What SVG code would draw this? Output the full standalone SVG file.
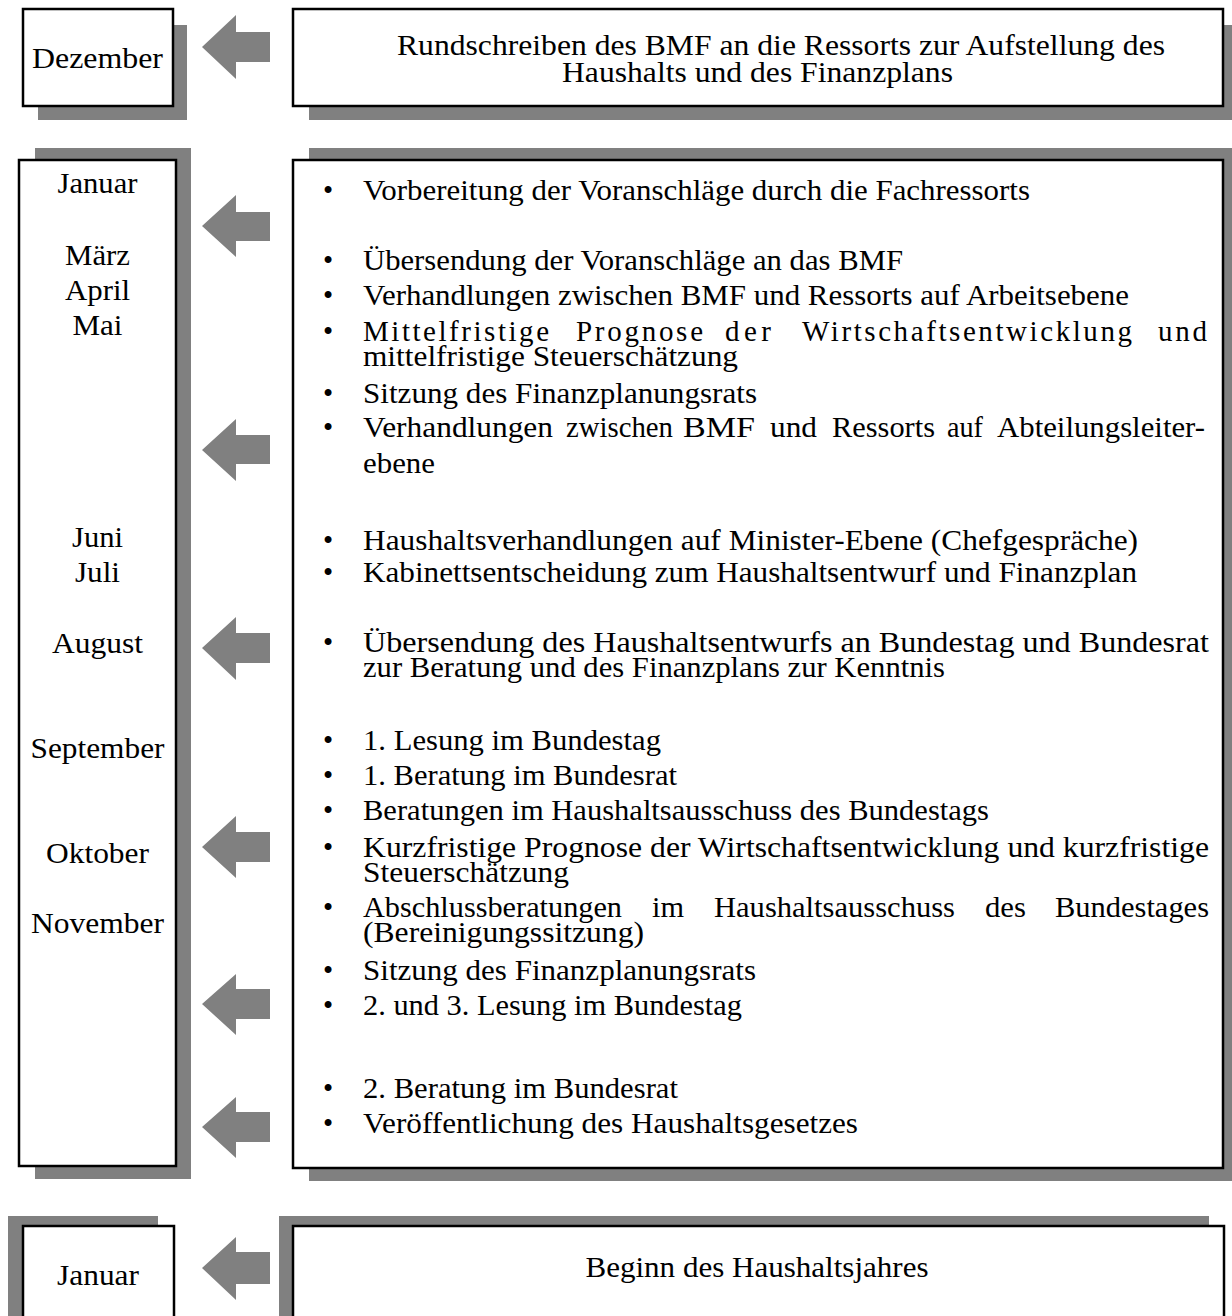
<svg xmlns="http://www.w3.org/2000/svg" width="1232" height="1316" viewBox="0 0 1232 1316">
<style>
.sh{fill:#808080;}
.bx{fill:#fff;stroke:#000;stroke-width:2.5;}
.ar{fill:#808080;}
text{font-family:"Liberation Serif","Times New Roman",serif;font-size:29px;fill:#000;}
.m{text-anchor:middle;}
.b{text-anchor:middle;}
</style>
<rect width="1232" height="1316" fill="#fff"/>
<g id="node-dezember">
<rect class="sh" x="38" y="25" width="149" height="95"/>
<rect class="bx" x="23" y="9" width="150" height="97"/>
<text class="m" x="97.5" y="68" textLength="131" lengthAdjust="spacingAndGlyphs">Dezember</text>
</g>
<g id="node-rundschreiben">
<rect class="sh" x="309" y="25" width="923" height="95"/>
<rect class="bx" x="293" y="9" width="930" height="97"/>
<text x="397" y="55" textLength="768" lengthAdjust="spacingAndGlyphs">Rundschreiben des BMF an die Ressorts zur Aufstellung des</text>
<text x="562" y="82" textLength="391" lengthAdjust="spacingAndGlyphs">Haushalts und des Finanzplans</text>
</g>
<g id="node-monate">
<rect class="sh" x="35" y="148" width="156" height="1031"/>
<rect class="bx" x="19" y="160" width="157" height="1006"/>
<text class="m" x="97.5" y="193" textLength="80" lengthAdjust="spacingAndGlyphs">Januar</text>
<text class="m" x="97.5" y="265" textLength="65" lengthAdjust="spacingAndGlyphs">März</text>
<text class="m" x="97.5" y="300" textLength="65" lengthAdjust="spacingAndGlyphs">April</text>
<text class="m" x="97.5" y="335" textLength="50" lengthAdjust="spacingAndGlyphs">Mai</text>
<text class="m" x="97.5" y="547" textLength="51" lengthAdjust="spacingAndGlyphs">Juni</text>
<text class="m" x="97.5" y="582" textLength="45" lengthAdjust="spacingAndGlyphs">Juli</text>
<text class="m" x="97.5" y="653" textLength="91" lengthAdjust="spacingAndGlyphs">August</text>
<text class="m" x="97.5" y="758" textLength="134" lengthAdjust="spacingAndGlyphs">September</text>
<text class="m" x="97.5" y="863" textLength="103" lengthAdjust="spacingAndGlyphs">Oktober</text>
<text class="m" x="97.5" y="933" textLength="133" lengthAdjust="spacingAndGlyphs">November</text>
</g>
<g id="node-ablauf">
<rect class="sh" x="309" y="148" width="923" height="1033"/>
<rect class="bx" x="293" y="160" width="930" height="1008"/>
<g id="bullets">
<text class="b" x="328" y="200">•</text>
<text class="b" x="328" y="270">•</text>
<text class="b" x="328" y="305">•</text>
<text class="b" x="328" y="341">•</text>
<text class="b" x="328" y="403">•</text>
<text class="b" x="328" y="437">•</text>
<text class="b" x="328" y="550">•</text>
<text class="b" x="328" y="582">•</text>
<text class="b" x="328" y="652">•</text>
<text class="b" x="328" y="750">•</text>
<text class="b" x="328" y="785">•</text>
<text class="b" x="328" y="820">•</text>
<text class="b" x="328" y="857">•</text>
<text class="b" x="328" y="917">•</text>
<text class="b" x="328" y="980">•</text>
<text class="b" x="328" y="1015">•</text>
<text class="b" x="328" y="1098">•</text>
<text class="b" x="328" y="1133">•</text>
</g>
<text x="363" y="200" textLength="667" lengthAdjust="spacingAndGlyphs">Vorbereitung der Voranschläge durch die Fachressorts</text>
<text x="363" y="270" textLength="540" lengthAdjust="spacingAndGlyphs">Übersendung der Voranschläge an das BMF</text>
<text x="363" y="305" textLength="766" lengthAdjust="spacingAndGlyphs">Verhandlungen zwischen BMF und Ressorts auf Arbeitsebene</text>
<g id="line-mittelfristige">
<text x="363" y="341" textLength="186" lengthAdjust="spacing">Mittelfristige</text>
<text x="576" y="341" textLength="127" lengthAdjust="spacing">Prognose</text>
<text x="725" y="341" textLength="46" lengthAdjust="spacing">der</text>
<text x="802" y="341" textLength="330" lengthAdjust="spacing">Wirtschaftsentwicklung</text>
<text x="1158" y="341" textLength="49" lengthAdjust="spacing">und</text>
</g>
<text x="363" y="366" textLength="375" lengthAdjust="spacingAndGlyphs">mittelfristige Steuerschätzung</text>
<text x="363" y="403" textLength="394" lengthAdjust="spacingAndGlyphs">Sitzung des Finanzplanungsrats</text>
<g id="line-abteilungsleiter">
<text x="363" y="437" textLength="190" lengthAdjust="spacingAndGlyphs">Verhandlungen</text>
<text x="566" y="437" textLength="107" lengthAdjust="spacingAndGlyphs">zwischen</text>
<text x="683" y="437" textLength="72" lengthAdjust="spacingAndGlyphs">BMF</text>
<text x="770" y="437" textLength="47" lengthAdjust="spacingAndGlyphs">und</text>
<text x="832" y="437" textLength="103" lengthAdjust="spacingAndGlyphs">Ressorts</text>
<text x="947" y="437" textLength="36" lengthAdjust="spacingAndGlyphs">auf</text>
<text x="997" y="437" textLength="208" lengthAdjust="spacingAndGlyphs">Abteilungsleiter-</text>
</g>
<text x="363" y="473" textLength="72" lengthAdjust="spacingAndGlyphs">ebene</text>
<text x="363" y="550" textLength="775" lengthAdjust="spacingAndGlyphs">Haushaltsverhandlungen auf Minister-Ebene (Chefgespräche)</text>
<text x="363" y="582" textLength="774" lengthAdjust="spacingAndGlyphs">Kabinettsentscheidung zum Haushaltsentwurf und Finanzplan</text>
<text x="363" y="652" textLength="846" lengthAdjust="spacingAndGlyphs">Übersendung des Haushaltsentwurfs an Bundestag und Bundesrat</text>
<text x="363" y="677" textLength="582" lengthAdjust="spacingAndGlyphs">zur Beratung und des Finanzplans zur Kenntnis</text>
<text x="363" y="750" textLength="298" lengthAdjust="spacingAndGlyphs">1. Lesung im Bundestag</text>
<text x="363" y="785" textLength="314" lengthAdjust="spacingAndGlyphs">1. Beratung im Bundesrat</text>
<text x="363" y="820" textLength="626" lengthAdjust="spacingAndGlyphs">Beratungen im Haushaltsausschuss des Bundestags</text>
<text x="363" y="857" textLength="846" lengthAdjust="spacingAndGlyphs">Kurzfristige Prognose der Wirtschaftsentwicklung und kurzfristige</text>
<text x="363" y="882" textLength="206" lengthAdjust="spacingAndGlyphs">Steuerschätzung</text>
<g id="line-abschluss">
<text x="363" y="917" textLength="259" lengthAdjust="spacingAndGlyphs">Abschlussberatungen</text>
<text x="652" y="917" textLength="32" lengthAdjust="spacingAndGlyphs">im</text>
<text x="714" y="917" textLength="241" lengthAdjust="spacingAndGlyphs">Haushaltsausschuss</text>
<text x="985" y="917" textLength="41" lengthAdjust="spacingAndGlyphs">des</text>
<text x="1055" y="917" textLength="154" lengthAdjust="spacingAndGlyphs">Bundestages</text>
</g>
<text x="363" y="942" textLength="281" lengthAdjust="spacingAndGlyphs">(Bereinigungssitzung)</text>
<text x="363" y="980" textLength="393" lengthAdjust="spacingAndGlyphs">Sitzung des Finanzplanungsrats</text>
<text x="363" y="1015" textLength="379" lengthAdjust="spacingAndGlyphs">2. und 3. Lesung im Bundestag</text>
<text x="363" y="1098" textLength="315" lengthAdjust="spacingAndGlyphs">2. Beratung im Bundesrat</text>
<text x="363" y="1133" textLength="495" lengthAdjust="spacingAndGlyphs">Veröffentlichung des Haushaltsgesetzes</text>
</g>
<g id="node-januar-neu">
<rect class="sh" x="8" y="1216" width="150" height="110"/>
<rect class="bx" x="23" y="1226" width="151" height="100"/>
<text class="m" x="98" y="1285" textLength="82" lengthAdjust="spacingAndGlyphs">Januar</text>
</g>
<g id="node-beginn">
<rect class="sh" x="279" y="1216" width="930" height="110"/>
<rect class="bx" x="293" y="1226" width="931" height="100"/>
<text class="m" x="757" y="1277" textLength="343" lengthAdjust="spacingAndGlyphs">Beginn des Haushaltsjahres</text>
</g>
<g id="connectors">
<polygon class="ar" points="202,47 236,15 236,32 270,32 270,62 236,62 236,79"/>
<polygon class="ar" points="202,226 236,195 236,212 270,212 270,241 236,241 236,257"/>
<polygon class="ar" points="202,450 236,419 236,435 270,435 270,464 236,464 236,481"/>
<polygon class="ar" points="202,648 236,617 236,633 270,633 270,663 236,663 236,680"/>
<polygon class="ar" points="202,847 236,816 236,832 270,832 270,862 236,862 236,878"/>
<polygon class="ar" points="202,1004 236,974 236,989 270,989 270,1019 236,1019 236,1035"/>
<polygon class="ar" points="202,1127 236,1097 236,1112 270,1112 270,1142 236,1142 236,1158"/>
<polygon class="ar" points="202,1268 236,1237 236,1252 270,1252 270,1284 236,1284 236,1300"/>
</g>
</svg>
